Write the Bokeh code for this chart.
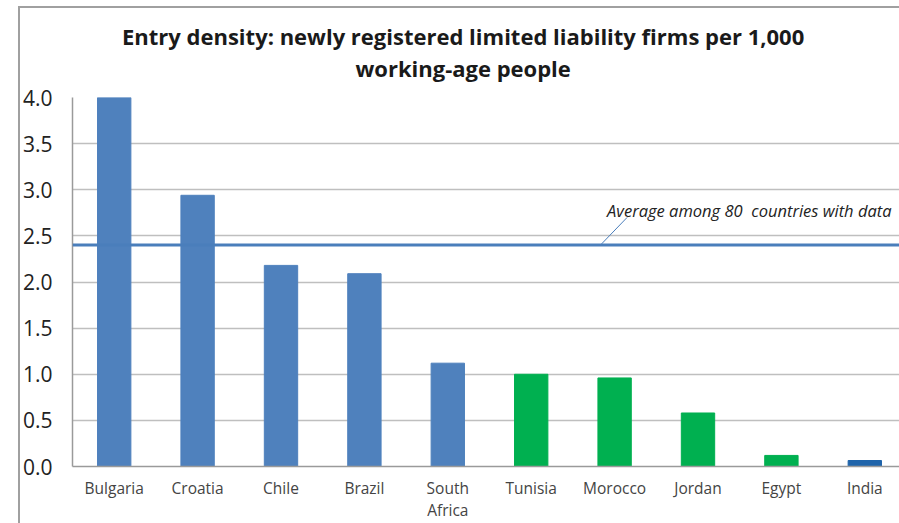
from bokeh.plotting import figure
from bokeh.models import ColumnDataSource, FixedTicker, Span, Label, Title, Range1d
from bokeh.embed import file_html
from bokeh.resources import INLINE

countries = ["Bulgaria", "Croatia", "Chile", "Brazil", "South\nAfrica",
             "Tunisia", "Morocco", "Jordan", "Egypt", "India"]
values = [4.0, 2.94, 2.18, 2.09, 1.12, 1.00, 0.96, 0.58, 0.12, 0.065]
colors = ["#4F81BD"] * 5 + ["#00B050"] * 4 + ["#1F64AA"]
average = 2.40
avg_label = "Average among 80  countries with data"
title_lines = ["Entry density: newly registered limited liability firms per 1,000",
               "working-age people"]
y_ticks = [0.0, 0.5, 1.0, 1.5, 2.0, 2.5, 3.0, 3.5, 4.0]

xs = [i + 0.5 for i in range(len(countries))]
src = ColumnDataSource(dict(x=xs, top=values, color=colors))

p = figure(width=899, height=523, output_backend="svg", toolbar_location=None,
           x_range=Range1d(0, 9.916), y_range=Range1d(0, 4.0),
           min_border_left=72, min_border_right=0, min_border_bottom=56,
           min_border_top=97)
p.styles = {"background": "linear-gradient(#a0a0a0,#a0a0a0) 18px 6px/2px 100% no-repeat, "
                          "linear-gradient(#a0a0a0,#a0a0a0) 18px 6px/100% 2px no-repeat"}
p.border_fill_color = None
p.outline_line_color = None
p.background_fill_color = "white"

# trailing no-break spaces shift the centred title left, over the whole chart
pad = "\u00a0" * 8

# spacer between frame and title
p.add_layout(Title(text=" ", text_font_size="1px", standoff=11), "above")
p.add_layout(Title(text=title_lines[1] + pad, align="center", text_font="Open Sans",
                   text_font_size="22px", text_font_style="bold", text_color="#1a1a1a",
                   text_line_height=0.9, standoff=1), "above")
p.add_layout(Title(text=title_lines[0] + pad, align="center", text_font="Open Sans",
                   text_font_size="22px", text_font_style="bold", text_color="#1a1a1a",
                   text_line_height=0.9, standoff=0), "above")

p.vbar(x="x", top="top", width=0.4, color="color", source=src)

p.add_layout(Span(location=average, dimension="width", line_color="#4A7EBB", line_width=3))
p.line(x=[6.33, 6.65], y=[average, 2.70], line_color="#4A7EBB", line_width=1)
p.add_layout(Label(x=6.41, y=2.78, text=avg_label.replace("  ", "\u00a0 "),
                   text_font="Open Sans", text_font_size="16.5px",
                   text_font_style="italic", text_color="#222222", text_baseline="middle"))

p.xaxis.ticker = FixedTicker(ticks=xs)
p.xaxis.major_label_overrides = {x: c for x, c in zip(xs, countries)}
p.xaxis.major_label_text_font = "Open Sans"
p.xaxis.major_label_text_font_size = "15.5px"
p.xaxis.major_label_text_line_height = 1.0
p.xaxis.major_label_text_color = "#444444"
p.xaxis.major_label_standoff = 10
p.xaxis.major_tick_out = 0
p.xaxis.major_tick_in = 0
p.xaxis.major_tick_line_color = None
p.xaxis.minor_tick_line_color = None
p.xaxis.axis_line_color = "#9a9a9a"
p.xaxis.axis_line_width = 1.5

p.yaxis.ticker = FixedTicker(ticks=y_ticks)
p.yaxis.major_label_overrides = {v: f"{v:.1f}" for v in y_ticks}
p.yaxis.major_label_text_font = "Open Sans"
p.yaxis.major_label_text_font_size = "21px"
p.yaxis.major_label_text_color = "#222222"
p.yaxis.major_label_standoff = 20
p.yaxis.major_tick_out = 0
p.yaxis.major_tick_in = 0
p.yaxis.major_tick_line_color = None
p.yaxis.minor_tick_line_color = None
p.yaxis.axis_line_color = "#9a9a9a"
p.yaxis.axis_line_width = 1.5

p.xgrid.grid_line_color = None
p.ygrid.grid_line_color = "#BFBFBF"
p.ygrid.grid_line_width = 1.5

open("out.html", "w").write(file_html(p, INLINE))
